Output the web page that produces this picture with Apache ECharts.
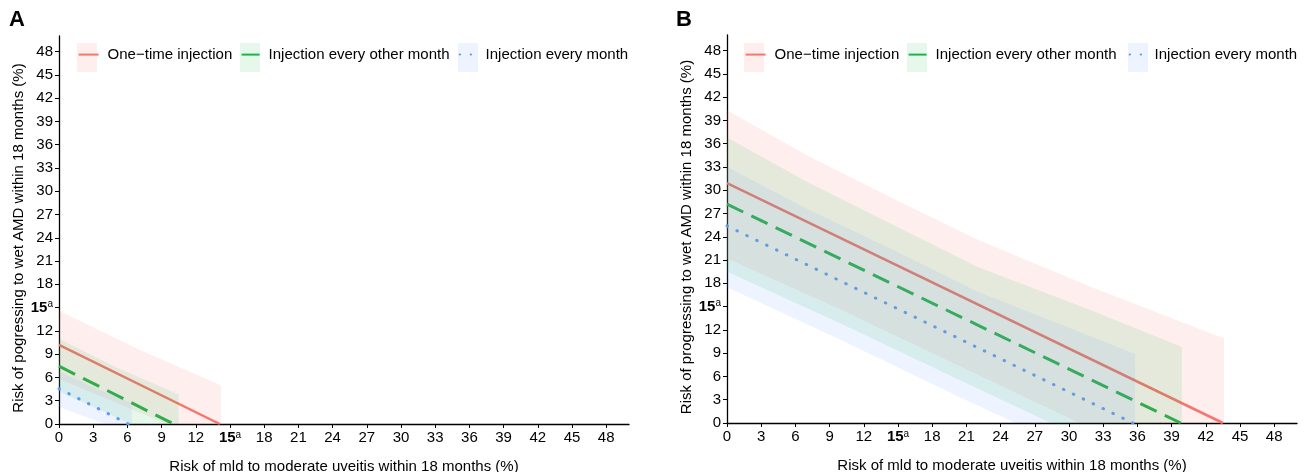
<!DOCTYPE html>
<html>
<head>
<meta charset="utf-8">
<script src="https://cdn.jsdelivr.net/npm/echarts@6/dist/echarts.min.js"></script>
<style>
  html, body { margin: 0; padding: 0; background: #fff; }
  #chart { width: 1305px; height: 472px; }
</style>
</head>
<body>
<div id="chart"></div>
<script>
// tick values, both axes, both panels
var ticks = [0, 3, 6, 9, 12, 15, 18, 21, 24, 27, 30, 33, 36, 39, 42, 45, 48];
var names = ['One\u2212time injection', 'Injection every other month', 'Injection every month'];

// panel A  [uveitis risk %, wet AMD risk %]
var aOneLine = [[0, 10.2], [14.1, 0]];
var aOneUpper = [[0, 14.6], [7, 9.6], [14.2, 5.0]];
var aOneLower = [[0, 5.8], [9.5, 0], [14.2, 0]];
var aOtherLine = [[0, 7.45], [10.05, 0]];
var aOtherUpper = [[0, 11.0], [5, 7.3], [10.5, 3.8]];
var aOtherLower = [[0, 4.2], [6.3, 0], [10.5, 0]];
var aMonthLine = [[0, 4.55], [6.1, 0]];
var aMonthUpper = [[0, 6.8], [3, 4.75], [6.4, 2.7]];
var aMonthLower = [[0, 2.2], [4.0, 0], [6.4, 0]];

// panel B
var bOneLine = [[0, 30.9], [43.5, 0]];
var bOneUpper = [[0, 40.3], [7, 34.5], [14.6, 28.9], [22, 23.6], [32, 17.5], [43.6, 10.9]];
var bOneLower = [[0, 21.2], [10, 14.6], [20, 7.6], [30.9, 0], [43.6, 0]];
var bOtherLine = [[0, 28.2], [39.8, 0]];
var bOtherUpper = [[0, 36.8], [7, 31.1], [14.6, 25.5], [22, 20.1], [32, 14.5], [39.9, 9.8]];
var bOtherLower = [[0, 19.5], [10, 12.8], [20, 5.8], [28.4, 0], [39.9, 0]];
var bMonthLine = [[0, 25.4], [35.6, 0]];
var bMonthUpper = [[0, 33.0], [7, 27.6], [14.6, 22.3], [22, 16.9], [32, 11.1], [35.8, 8.9]];
var bMonthLower = [[0, 17.5], [10, 10.7], [20, 3.6], [25.3, 0], [35.8, 0]];

var FONT = '"Liberation Sans", Arial, Helvetica, sans-serif';
var colors = ['#F8766D', '#1DB34B', '#619CFF'];
var fills = ['rgba(248,118,109,0.12)', 'rgba(0,186,56,0.10)', 'rgba(97,156,255,0.11)'];
var lineStyles = [
  { color: colors[0], width: 2.5 },
  { color: colors[1], width: 3, type: [18, 9] },
  { color: colors[2], width: 3, type: [0.5, 10.5], cap: 'round' }
];

var chart = echarts.init(document.getElementById('chart'));

function tickLabel(v) {
  return v === 15 ? '{b|15}{s|a}' : String(v);
}

var labelRich = {
  b: { fontFamily: FONT, fontSize: 15, fontWeight: 'bold', color: '#000', lineHeight: 16, verticalAlign: 'middle' },
  s: { fontFamily: FONT, fontSize: 10, color: '#000', lineHeight: 10, verticalAlign: 'top' }
};

function axis(idx, name, isY) {
  return {
    type: 'value', gridIndex: idx, min: 0, max: 50,
    name: name, nameLocation: 'middle', nameGap: isY ? 33 : 35,
    nameTextStyle: { fontFamily: FONT, fontSize: 15, color: '#000', padding: isY ? [0, 16, 0, 0] : 0 },
    axisLine: { show: true, onZero: false, lineStyle: { color: '#000', width: 1.3 } },
    axisTick: { show: true, length: 4, customValues: ticks, lineStyle: { color: '#000', width: 1 } },
    axisLabel: { customValues: ticks, margin: 6, fontFamily: FONT, fontSize: 15, color: '#000', formatter: tickLabel, rich: labelRich },
    splitLine: { show: false }
  };
}

// confidence ribbons are drawn over the lines, as in the original
function band(idx, upper, lower, fill) {
  return {
    type: 'custom', xAxisIndex: idx, yAxisIndex: idx, silent: true, z: 3,
    data: upper,
    renderItem: function (params, api) {
      if (params.dataIndex !== 0) return null;
      var pts = upper.map(function (p) { return api.coord(p); })
        .concat(lower.slice().reverse().map(function (p) { return api.coord(p); }));
      return { type: 'polygon', shape: { points: pts }, style: { fill: fill } };
    }
  };
}

function line(idx, k, data) {
  return {
    type: 'line', name: names[k], xAxisIndex: idx, yAxisIndex: idx, z: 2,
    data: data, symbol: 'none', showSymbol: false, silent: true,
    lineStyle: lineStyles[k]
  };
}

// legend entries: box left, text padding, per panel
var legendBoxes = [[77, 4], [240, 2], [458, 1], [744, 4], [907, 2], [1128, 0]];

var legends = legendBoxes.map(function (b, i) {
  return {
    data: [names[i % 3]], left: b[0], top: 43, padding: 0,
    itemWidth: 20, itemHeight: 29, selectedMode: false,
    itemStyle: { opacity: 0 },
    textStyle: { fontFamily: FONT, fontSize: 15, color: '#000', padding: [0, 0, 0, b[1]] }
  };
});

var boxes = legendBoxes.map(function (b, i) {
  return { type: 'rect', left: b[0], top: 43, z: 0, silent: true,
    shape: { width: 20, height: 29 }, style: { fill: fills[i % 3] } };
});

var xName = 'Risk of mld to moderate uveitis within 18 months (%)';

chart.setOption({
  animation: false,
  title: [
    { text: 'A', left: 9, top: 9, padding: 0, textStyle: { fontFamily: FONT, fontSize: 22, fontWeight: 'bold', color: '#000' } },
    { text: 'B', left: 676, top: 9, padding: 0, textStyle: { fontFamily: FONT, fontSize: 22, fontWeight: 'bold', color: '#000' } }
  ],
  legend: legends,
  graphic: boxes,
  grid: [
    { left: 59, top: 36, width: 570, height: 388, outerBoundsMode: 'none', containLabel: false },
    { left: 727, top: 35, width: 570, height: 388, outerBoundsMode: 'none', containLabel: false }
  ],
  xAxis: [axis(0, xName, false), axis(1, xName, false)],
  yAxis: [
    axis(0, 'Risk of pogressing to wet AMD within 18 months (%)', true),
    axis(1, 'Risk of progressing to wet AMD within 18 months (%)', true)
  ],
  series: [
    line(0, 0, aOneLine),
    line(0, 1, aOtherLine),
    line(0, 2, aMonthLine),
    line(1, 0, bOneLine),
    line(1, 1, bOtherLine),
    line(1, 2, bMonthLine),
    band(0, aOneUpper, aOneLower, fills[0]),
    band(0, aOtherUpper, aOtherLower, fills[1]),
    band(0, aMonthUpper, aMonthLower, fills[2]),
    band(1, bOneUpper, bOneLower, fills[0]),
    band(1, bOtherUpper, bOtherLower, fills[1]),
    band(1, bMonthUpper, bMonthLower, fills[2])
  ]
});
</script>
</body>
</html>
